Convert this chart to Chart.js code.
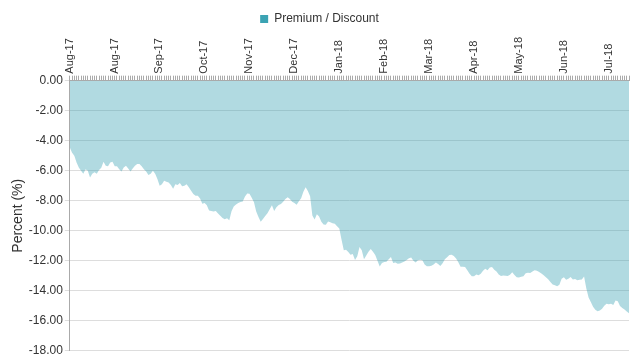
<!DOCTYPE html>
<html>
<head>
<meta charset="utf-8">
<script src="https://cdn.jsdelivr.net/npm/chart.js@4"></script>
<style>
  html, body { margin: 0; padding: 0; background: #fff; }
  #wrap { width: 640px; height: 360px; }
</style>
</head>
<body>
<div id="wrap"><canvas id="grafico" width="640" height="360"></canvas></div>
<script>
// month labels shown every 20 trading days
const tickLabels = ["Aug-17", "Aug-17", "Sep-17", "Oct-17", "Nov-17", "Dec-17",
  "Jan-18", "Feb-18", "Mar-18", "Apr-18", "May-18", "Jun-18", "Jul-18"];
const labelStep = 20;

// premium / discount in percent, one value per trading day
const premiumDiscount = [
  -4.45, -4.8, -5.0, -5.45, -5.78, -6.0, -6.2, -5.9, -6.0, -6.45,
  -6.2, -6.1, -6.2, -5.95, -5.8, -5.4, -5.67, -5.7, -5.45, -5.4,
  -5.7, -5.7, -5.9, -6.06, -5.78, -5.67, -5.85, -6.06, -5.85, -5.67,
  -5.56, -5.56, -5.7, -5.9, -6.06, -6.28, -6.2, -6.0, -6.2, -6.55,
  -7.0, -6.9, -6.67, -6.73, -6.78, -6.95, -7.2, -6.9, -6.95, -6.82,
  -7.04, -7.0, -6.9, -7.1, -7.33, -7.55, -7.66, -7.66, -7.85, -8.2,
  -8.15, -8.3, -8.65, -8.68, -8.72, -8.68, -8.85, -9.0, -9.15, -9.23,
  -9.17, -9.3, -8.7, -8.38, -8.25, -8.15, -8.08, -8.05, -7.72, -7.52,
  -7.54, -7.8, -8.1, -8.72, -9.08, -9.4, -9.22, -9.01, -8.83, -8.56,
  -8.3, -8.68, -8.43, -8.28, -8.21, -8.06, -7.88, -7.77, -7.89, -8.06,
  -8.15, -8.26, -8.04, -7.84, -7.4, -7.1, -7.35, -7.7, -8.99, -9.25,
  -8.9, -9.05, -9.4, -9.58, -9.6, -9.38, -9.43, -9.5, -9.53, -9.7,
  -9.85, -10.6, -11.3, -11.27, -11.42, -11.6, -11.55, -11.95, -11.7, -11.09,
  -11.3, -11.9, -11.65, -11.4, -11.22, -11.4, -11.62, -12.0, -12.38, -12.15,
  -12.09, -12.07, -11.9, -11.75, -12.15, -12.12, -12.2, -12.18, -12.12, -12.05,
  -11.95, -11.84, -11.78, -12.0, -12.12, -11.96, -11.93, -11.96, -12.25, -12.36,
  -12.37, -12.34, -12.25, -12.12, -12.22, -12.35, -12.17, -11.9, -11.77, -11.62,
  -11.6, -11.68, -11.85, -12.1, -12.4, -12.4, -12.42, -12.64, -12.86, -13.04,
  -13.04, -12.91, -12.96, -12.86, -12.66, -12.54, -12.63, -12.45, -12.42, -12.6,
  -12.72, -12.92, -13.02, -12.99, -13.0, -13.02, -12.93, -12.77, -12.95, -13.1,
  -13.12, -13.07, -13.03, -12.84, -12.8, -12.82, -12.72, -12.63, -12.66, -12.75,
  -12.85, -12.96, -13.1, -13.23, -13.42, -13.58, -13.63, -13.7, -13.6, -13.2,
  -13.1, -13.27, -13.2, -13.08, -13.25, -13.21, -13.3, -13.27, -13.25, -13.05,
  -13.85, -14.45, -14.75, -15.07, -15.26, -15.37, -15.32, -15.2, -15.0, -14.87,
  -14.9, -14.86, -14.95, -14.65, -14.7, -15.02, -15.15, -15.25, -15.38, -15.5
];

const yMin = -18;
const yMax = 0;
const yStep = 2;

const categorias = premiumDiscount.map((_, i) =>
  i % labelStep === 0 ? tickLabels[i / labelStep] : "");

const corTexto = "#333";
const fonte = "'Liberation Sans', Arial, sans-serif";

new Chart(document.getElementById("grafico"), {
  type: "line",
  data: {
    labels: categorias,
    datasets: [
      {
        label: "Premium / Discount",
        data: premiumDiscount,
        backgroundColor: "#3ba3b3",
        borderColor: "#3ba3b3",
        borderWidth: 0,
        pointRadius: 0,
        tension: 0,
        fill: { target: "origin", below: "rgba(59,163,179,0.4)", above: "rgba(59,163,179,0.4)" },
      },
    ],
  },
  options: {
    responsive: false,
    animation: false,
    layout: { padding: { left: 10, right: 11, top: 5, bottom: 7 } },
    plugins: {
      tooltip: { enabled: false },
      legend: {
        position: "top",
        labels: {
          boxWidth: 8,
          boxHeight: 8,
          color: corTexto,
          font: { family: fonte, size: 12 },
          padding: 8,
        },
      },
    },
    scales: {
      x: {
        position: "top",
        offset: false,
        border: { color: "#aaa" },
        grid: { drawOnChartArea: false, drawTicks: true, tickLength: 5, color: "#aaa" },
        ticks: {
          autoSkip: false,
          minRotation: 90,
          maxRotation: 90,
          padding: 2,
          labelOffset: 13,
          color: corTexto,
          font: { family: fonte, size: 11 },
        },
      },
      y: {
        min: yMin,
        max: yMax,
        border: { color: "#aaa" },
        grid: { color: "#ddd", tickLength: 5 },
        ticks: {
          stepSize: yStep,
          color: corTexto,
          padding: 2,
          font: { family: fonte, size: 12 },
          callback: (v) => Number(v).toFixed(2),
        },
        title: {
          display: true,
          text: "Percent (%)",
          color: corTexto,
          font: { family: fonte, size: 14 },
          padding: { top: 0, bottom: 0 },
        },
      },
    },
  },
});
</script>
</body>
</html>
